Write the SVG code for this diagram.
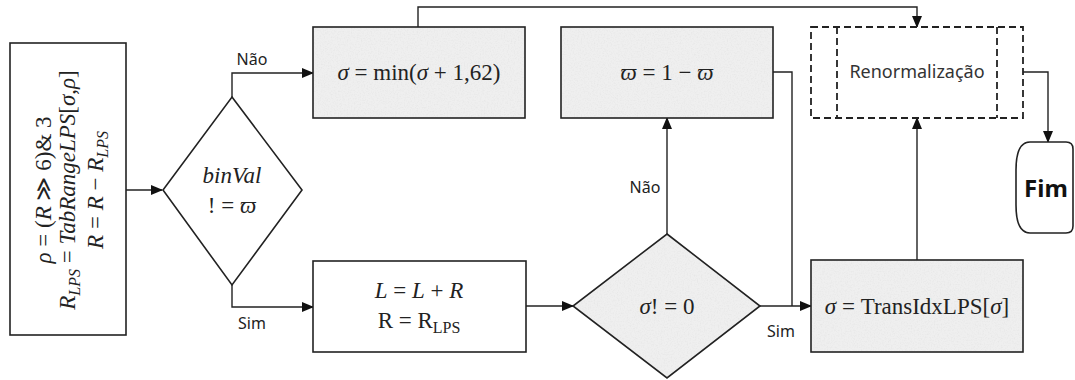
<svg xmlns="http://www.w3.org/2000/svg" width="1075" height="380" viewBox="0 0 1075 380">
<style>
.box{fill:none;stroke:#222;stroke-width:1.6}
.wbox{fill:#fff;stroke:#222;stroke-width:1.6}
.tex{fill:#efefef}
.dash{fill:#fff;stroke:#222;stroke-width:1.8;stroke-dasharray:7 4}
.dline{fill:none;stroke:#222;stroke-width:1.8;stroke-dasharray:7 4}
.conn{fill:none;stroke:#222;stroke-width:1.4}
.m{font-family:"Liberation Serif","DejaVu Serif",serif;font-size:23px;fill:#222}
.i{font-style:italic}
.lbl{font-family:"Noto Sans","Open Sans",sans-serif;font-size:16px;fill:#222}
.sub{font-size:16px}
</style>
<defs>
<marker id="arr" markerWidth="12" markerHeight="10" refX="11" refY="5" orient="auto" markerUnits="userSpaceOnUse">
<path d="M0,0 L12,5 L0,10 Z" fill="#111"/>
</marker>
<filter id="grain" x="0" y="0" width="100%" height="100%">
<feTurbulence type="fractalNoise" baseFrequency="0.7" numOctaves="2" seed="4" result="n"/>
<feColorMatrix in="n" type="matrix" values="0 0 0 0 0.7 0 0 0 0 0.7 0 0 0 0 0.7 0 0 0 0.9 -0.4" result="g"/>
<feComposite in="g" in2="SourceGraphic" operator="in" result="gc"/>
<feMerge><feMergeNode in="SourceGraphic"/><feMergeNode in="gc"/></feMerge>
</filter>
</defs>

<g id="connectors">
<path class="conn" d="M126,190 H162" marker-end="url(#arr)"/>
<path class="conn" d="M232,97 V73 H313" marker-end="url(#arr)"/>
<path class="conn" d="M232,285 V307 H313" marker-end="url(#arr)"/>
<path class="conn" d="M418,27 V7 H917 V27" marker-end="url(#arr)"/>
<path class="conn" d="M526,306 H573" marker-end="url(#arr)"/>
<path class="conn" d="M667,234 V118" marker-end="url(#arr)"/>
<path class="conn" d="M760,306 H811" marker-end="url(#arr)"/>
<path class="conn" d="M773,72 H792 V306"/>
<path class="conn" d="M917,260 V118" marker-end="url(#arr)"/>
<path class="conn" d="M1023,72 H1048 V142" marker-end="url(#arr)"/>
<text class="lbl" x="252" y="65" text-anchor="middle">Não</text>
<text class="lbl" x="252" y="329" text-anchor="middle">Sim</text>
<text class="lbl" x="645" y="193" text-anchor="middle">Não</text>
<text class="lbl" x="781" y="337" text-anchor="middle">Sim</text>
</g>

<g id="init">
<rect class="wbox" x="10" y="43" width="116" height="292"/>
<g transform="rotate(-90)">
<text class="m" x="-190" y="51" text-anchor="middle"><tspan class="i">ρ</tspan> = (<tspan class="i">R</tspan> ≫ 6)&amp; 3</text>
<text class="m" x="-190" y="75" text-anchor="middle"><tspan class="i">R</tspan><tspan class="i sub" dy="5">LPS</tspan><tspan dy="-5"> = </tspan><tspan class="i">TabRangeLPS</tspan>[<tspan class="i">σ</tspan>,<tspan class="i">ρ</tspan>]</text>
<text class="m" x="-190" y="103" text-anchor="middle"><tspan class="i">R</tspan> = <tspan class="i">R</tspan> − <tspan class="i">R</tspan><tspan class="i sub" dy="5">LPS</tspan></text>
</g>
</g>

<g id="dec1">
<path class="wbox" d="M232,97 L302,190 L232,285 L163,190 Z"/>
<text class="m i" x="232" y="183" text-anchor="middle">binVal</text>
<text class="m" x="232" y="213" text-anchor="middle">! =  <tspan class="i">ϖ</tspan></text>
</g>

<g id="incSigma">
<rect class="tex" x="313" y="27" width="212" height="91" filter="url(#grain)"/>
<rect class="box" x="313" y="27" width="212" height="91"/>
<text class="m" x="419" y="80" text-anchor="middle"><tspan class="i">σ</tspan> = min(<tspan class="i">σ</tspan> + 1,62)</text>
</g>

<g id="lpsUpdate">
<rect class="wbox" x="313" y="261" width="213" height="91"/>
<text class="m" x="419" y="298" text-anchor="middle"><tspan class="i">L</tspan> = <tspan class="i">L</tspan> + <tspan class="i">R</tspan></text>
<text class="m" x="419" y="328" text-anchor="middle">R = R<tspan class="sub" dy="5">LPS</tspan></text>
</g>

<g id="dec2">
<path class="tex" d="M667,234 L760,306 L667,378 L573,306 Z" filter="url(#grain)"/>
<path class="box" d="M667,234 L760,306 L667,378 L573,306 Z"/>
<text class="m" x="667" y="314" text-anchor="middle"><tspan class="i">σ</tspan>! = 0</text>
</g>

<g id="flipMps">
<rect class="tex" x="561" y="27" width="212" height="91" filter="url(#grain)"/>
<rect class="box" x="561" y="27" width="212" height="91"/>
<text class="m" x="667" y="80" text-anchor="middle"><tspan class="i">ϖ</tspan> = 1 − <tspan class="i">ϖ</tspan></text>
</g>

<g id="transIdx">
<rect class="tex" x="811" y="260" width="212" height="92" filter="url(#grain)"/>
<rect class="box" x="811" y="260" width="212" height="92"/>
<text class="m" x="917" y="314" text-anchor="middle"><tspan class="i">σ</tspan> = TransIdxLPS[<tspan class="i">σ</tspan>]</text>
</g>

<g id="renorm">
<rect class="dash" x="811" y="27" width="212" height="91"/>
<path class="dline" d="M837,27 V118 M997,27 V118"/>
<text x="917" y="78" text-anchor="middle" font-family="Noto Sans, Open Sans, sans-serif" font-size="18" fill="#333">Renormalização</text>
</g>

<g id="fim">
<path class="wbox" d="M1030,142 H1066 Q1073,142 1073,149 V226 Q1073,233 1066,233 H1030 C1020,233 1016,222 1016,205 V170 C1016,153 1020,142 1030,142 Z"/>
<text x="1046" y="197" text-anchor="middle" font-family="Noto Sans, Open Sans, sans-serif" font-size="24" font-weight="bold" fill="#111">Fim</text>
</g>
</svg>
